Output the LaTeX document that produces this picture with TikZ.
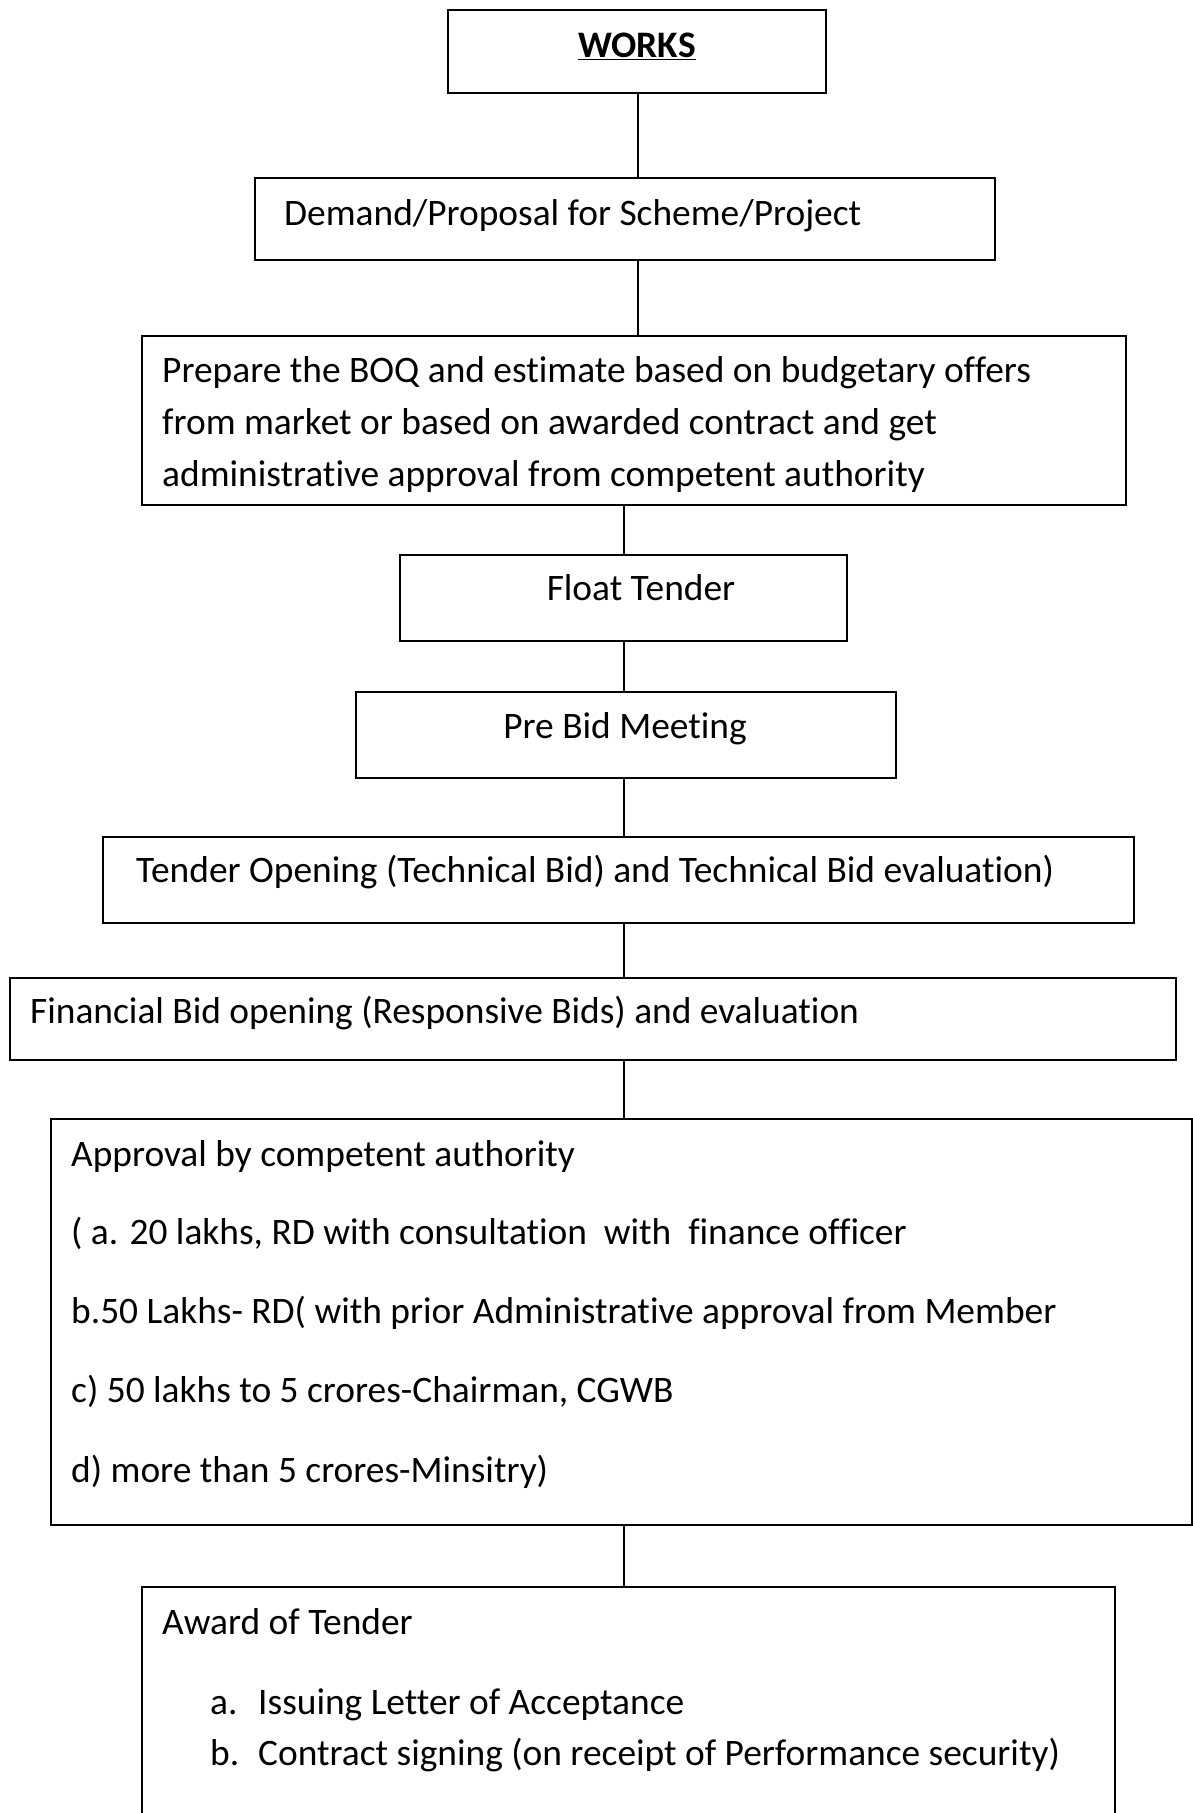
\documentclass[tikz,border=0pt]{standalone}
\usepackage{fontspec}
\setmainfont{Carlito}[Ligatures=NoCommon]
\begin{document}
\begin{tikzpicture}[x=1pt,y=-1pt,
  box/.style={draw, line width=1.6pt, inner sep=0pt, anchor=north west},
  conn/.style={draw, line width=1.3pt},
  txt/.style={inner sep=0pt, anchor=mid west, font=\fontsize{37.4}{44}\selectfont},
  ctxt/.style={inner sep=0pt, anchor=mid, font=\fontsize{37.4}{44}\selectfont}]
\clip (0,0) rectangle (1193,1813);
\fill[white] (0,0) rectangle (1193,1813);
% boxes
\node[box, minimum width=378pt, minimum height=83pt] (works) at (447,9) {};
\node[box, minimum width=740pt, minimum height=82pt] (demand) at (254,177) {};
\node[box, minimum width=984pt, minimum height=169pt] (boq) at (141,335) {};
\node[box, minimum width=447pt, minimum height=86pt] (float) at (399,554) {};
\node[box, minimum width=540pt, minimum height=86pt] (prebid) at (355,691) {};
\node[box, minimum width=1031pt, minimum height=86pt] (topen) at (102,836) {};
\node[box, minimum width=1166pt, minimum height=82pt] (fin) at (9,977) {};
\node[box, minimum width=1141pt, minimum height=406pt] (appr) at (50,1118) {};
\node[box, minimum width=973pt, minimum height=300pt] (award) at (141,1586) {};
% texts
\node[ctxt, font=\fontsize{37.4}{44}\selectfont\bfseries] (tworks) at (637,55) {\underline{WORKS}};
\node[txt] (tdemand) at (284,223) {Demand/Proposal for Scheme/Project};
\node[txt] (tboq1) at (162,380) {Prepare the BOQ and estimate based on budgetary offers};
\node[txt] (tboq2) at (162,432) {from market or based on awarded contract and get};
\node[txt] (tboq3) at (162,484) {administrative approval from competent authority};
\node[ctxt] (tfloat) at (641,598) {Float Tender};
\node[ctxt] (tprebid) at (625,736) {Pre Bid Meeting};
\node[txt] (ttopen) at (136,880) {Tender Opening (Technical Bid) and Technical Bid evaluation)};
\node[txt] (tfin) at (30,1021) {Financial Bid opening (Responsive Bids) and evaluation};
\node[txt] (tappr1) at (71,1164) {Approval by competent authority};
\node[txt] (tappr2) at (71,1242) {( a. 20 lakhs, RD with consultation\ \ with\ \ finance officer};
\node[txt] (tappr3) at (71,1321) {b.50 Lakhs- RD( with prior Administrative approval from Member};
\node[txt] (tappr4) at (71,1400) {c) 50 lakhs to 5 crores-Chairman, CGWB};
\node[txt] (tappr5) at (71,1480) {d) more than 5 crores-Minsitry)};
\node[txt] (taward) at (162,1632) {Award of Tender};
\node[txt] (tawa) at (210,1712) {a.};
\node[txt] (tawat) at (258,1712) {Issuing Letter of Acceptance};
\node[txt] (tawb) at (210,1763) {b.};
\node[txt] (tawbt) at (258,1763) {Contract signing (on receipt of Performance security)};
% connectors
\coordinate (axisA) at (638,0);
\coordinate (axisB) at (624,0);
\draw[conn] (works.south -| axisA) -- (demand.north -| axisA);
\draw[conn] (demand.south -| axisA) -- (boq.north -| axisA);
\draw[conn] (boq.south -| axisB) -- (float.north -| axisB);
\draw[conn] (float.south -| axisB) -- (prebid.north -| axisB);
\draw[conn] (prebid.south -| axisB) -- (topen.north -| axisB);
\draw[conn] (topen.south -| axisB) -- (fin.north -| axisB);
\draw[conn] (fin.south -| axisB) -- (appr.north -| axisB);
\draw[conn] (appr.south -| axisB) -- (award.north -| axisB);
\end{tikzpicture}
\end{document}
